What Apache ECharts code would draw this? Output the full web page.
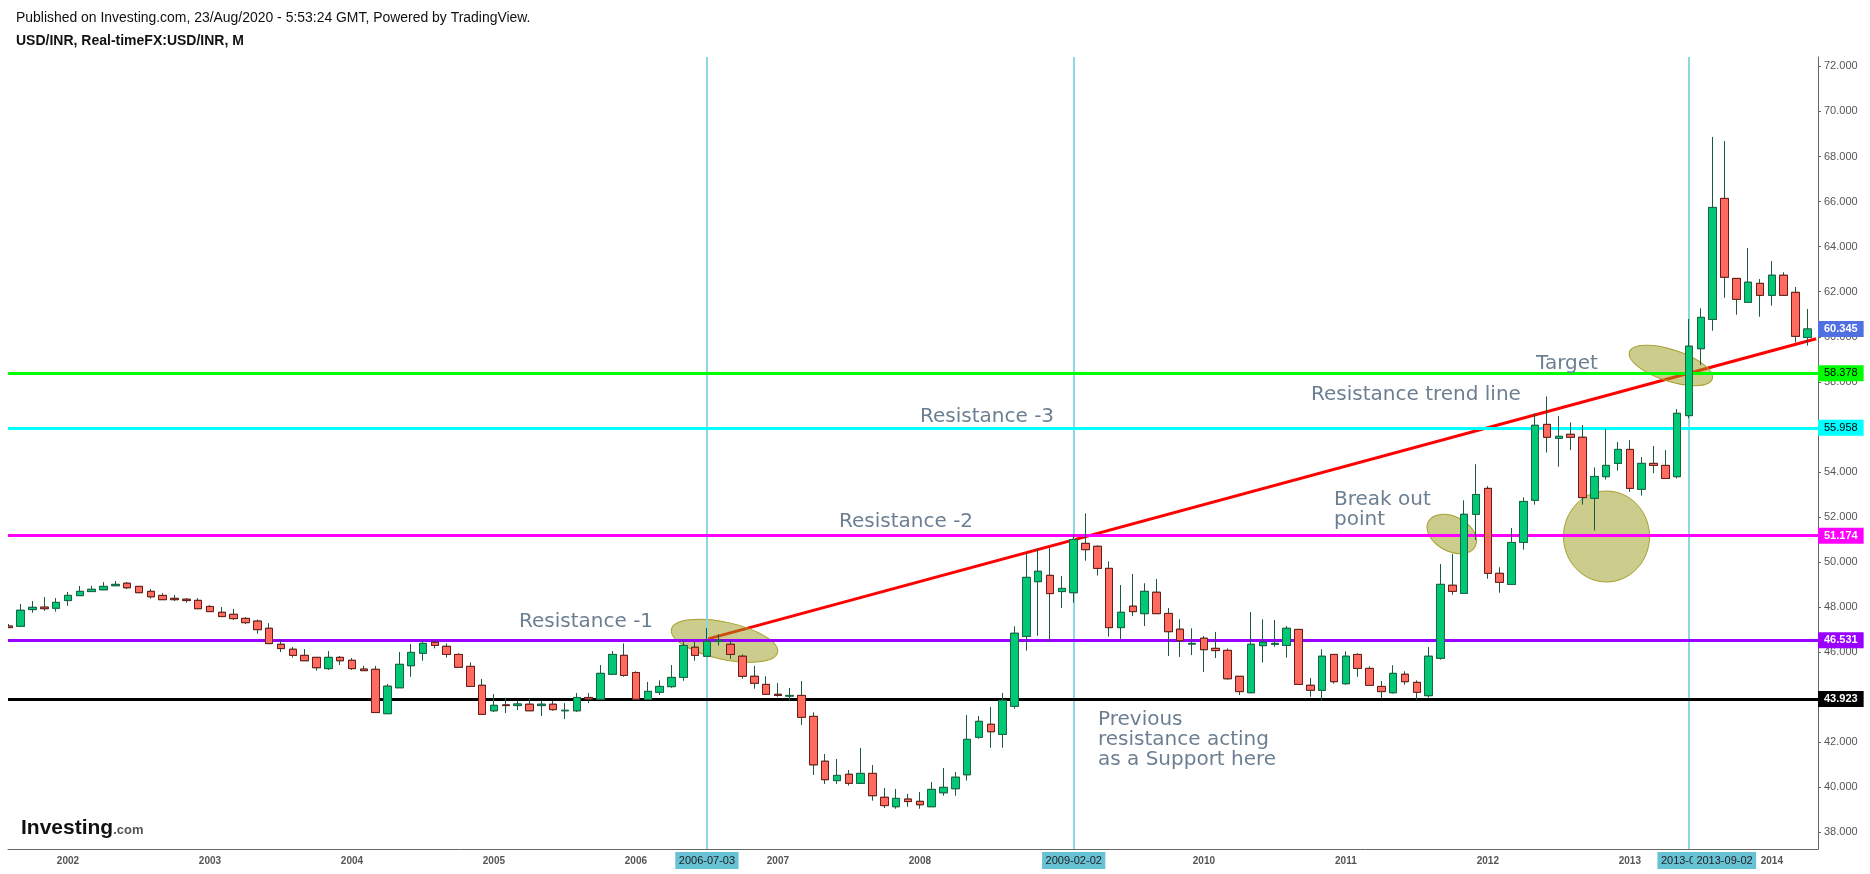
<!DOCTYPE html>
<html>
<head>
<meta charset="utf-8">
<style>html,body{margin:0;padding:0;background:#fff}#c{width:1870px;height:874px}</style>
<script src="https://cdn.jsdelivr.net/npm/echarts@6/dist/echarts.min.js"></script>
</head>
<body>
<div id="c"></div>
<script>
// Monthly candles, first one is Aug 2001, last one Apr 2014
const opens = [47.16,47.15,47.89,48.00,47.95,48.29,48.51,48.69,48.77,48.95,49.06,48.92,48.70,48.52,48.39,48.35,48.30,48.03,47.77,47.68,47.50,47.38,47.06,46.35,46.13,45.86,45.77,45.27,45.77,45.64,45.25,45.24,43.27,44.42,45.40,45.95,46.44,46.26,45.90,45.37,44.53,43.40,43.66,43.63,43.69,43.63,43.69,43.40,43.40,43.99,43.91,45.02,45.86,45.10,43.90,44.22,44.47,44.88,46.22,45.82,46.48,46.35,45.82,44.93,44.57,44.13,44.05,44.08,43.15,41.16,40.30,40.58,40.18,40.62,39.56,39.14,39.48,39.38,39.14,39.76,39.94,40.56,42.22,42.80,42.35,43.60,46.70,49.13,49.41,48.69,48.64,50.83,50.70,49.72,47.09,48.04,47.71,48.66,47.72,47.02,46.36,46.62,46.17,46.08,44.93,44.20,46.29,46.35,46.30,47.01,44.53,44.31,45.90,44.60,45.90,45.28,44.48,44.20,45.02,44.66,44.07,45.73,48.97,48.61,52.12,53.27,49.50,49.01,50.87,52.74,56.11,55.49,55.67,55.54,52.83,53.79,54.38,55.00,53.23,54.38,54.29,53.79,56.50,59.47,60.77,66.14,62.59,61.53,62.37,61.84,62.73,61.97,59.97];
const closes = [47.09,47.86,47.99,47.93,48.21,48.52,48.70,48.79,48.92,49.01,48.86,48.64,48.46,48.33,48.33,48.29,47.93,47.80,47.58,47.49,47.31,47.00,46.38,46.16,45.86,45.62,45.31,45.77,45.62,45.27,45.18,43.32,44.49,45.46,45.99,46.39,46.30,45.90,45.33,44.48,43.24,43.64,43.63,43.70,43.40,43.69,43.45,43.42,43.99,43.92,45.06,45.90,44.97,43.91,44.26,44.48,44.88,46.30,45.86,46.48,46.53,45.90,44.93,44.62,44.13,44.08,44.08,43.11,41.00,40.34,40.53,40.18,40.62,39.63,39.19,39.51,39.37,39.23,39.91,40.00,40.45,42.13,42.93,42.47,43.86,46.84,49.32,49.59,48.60,48.83,51.00,50.55,49.72,47.09,47.77,47.80,48.70,47.71,46.91,46.51,46.39,46.11,46.07,44.82,44.25,46.35,46.44,46.39,47.06,44.57,44.31,45.82,44.69,45.82,45.28,44.53,44.25,45.06,44.69,44.22,45.82,49.01,48.70,52.12,53.00,49.50,49.10,50.87,52.69,56.07,55.54,55.58,55.54,52.86,53.80,54.29,55.00,53.27,54.38,54.29,53.71,56.60,59.58,60.86,65.74,62.64,61.66,62.42,61.84,62.73,61.84,60.02,60.345];
const lows = [47.09,47.15,47.75,47.84,47.80,48.06,48.51,48.69,48.77,48.95,48.80,48.64,48.37,48.33,48.27,48.20,47.93,47.80,47.58,47.43,47.25,46.82,46.38,46.01,45.76,45.62,45.18,45.21,45.43,45.21,45.18,43.32,43.27,44.42,44.91,45.62,46.17,45.76,45.33,44.48,43.24,43.34,43.30,43.43,43.40,43.17,43.40,43.03,43.34,43.74,43.91,45.02,44.91,43.91,43.90,44.10,44.42,44.73,45.62,45.82,46.30,45.70,44.82,44.38,44.13,44.02,43.85,42.77,40.55,40.15,40.15,40.08,40.18,39.41,39.08,39.05,39.14,39.05,39.14,39.63,39.63,40.30,42.16,41.76,41.76,43.49,46.07,46.73,46.47,47.96,48.20,50.06,49.40,46.69,46.59,47.60,47.16,47.71,45.83,45.79,45.87,45.12,45.74,44.78,44.10,44.20,45.54,46.24,45.76,44.57,44.02,43.85,44.60,44.56,44.91,44.53,43.95,44.16,44.56,43.89,43.98,45.67,48.55,48.61,50.98,49.26,48.64,49.01,50.55,52.55,54.86,54.23,54.97,52.55,51.40,53.66,54.06,53.12,52.95,53.94,53.71,53.71,56.38,58.74,60.27,61.73,60.98,61.53,60.89,61.38,61.84,59.75,59.61];
const highs = [47.25,48.14,48.27,48.45,48.40,48.67,48.94,48.94,49.11,49.16,49.11,48.92,48.80,48.62,48.54,48.40,48.40,48.09,48.00,47.92,47.56,47.45,47.29,46.57,46.23,46.14,45.77,46.05,45.83,45.74,45.39,45.39,44.59,46.01,46.36,46.53,46.53,46.39,45.95,45.55,44.81,44.14,43.97,43.86,43.94,43.83,43.83,43.74,44.19,44.19,45.43,46.05,46.39,45.15,44.68,44.75,45.43,46.57,46.48,47.07,46.79,46.57,45.90,45.39,44.93,44.63,44.41,44.72,43.33,41.48,41.26,40.77,41.75,40.99,39.97,39.93,39.71,39.79,40.24,40.86,40.68,43.21,43.17,43.57,44.19,47.15,50.39,50.62,50.62,49.38,51.20,52.16,50.74,50.03,48.98,49.47,49.06,49.25,47.96,47.46,47.06,46.72,46.90,46.17,44.93,47.78,47.46,47.43,47.16,47.01,44.85,46.13,45.90,46.04,45.95,45.37,44.72,45.42,45.15,44.75,46.23,49.91,50.36,52.74,54.34,53.37,49.77,51.51,52.87,56.60,57.35,56.48,56.20,56.08,54.20,55.90,55.33,55.41,54.66,55.15,54.97,56.79,60.79,61.26,68.87,68.69,62.59,63.94,62.56,63.36,62.86,62.21,61.23];

const yearIndex = [5,17,29,41,53,65,77,89,101,113,125,137,149];
const yearLabels = ['2002','2003','2004','2005','2006','2007','2008','2009','2010','2011','2012','2013','2014'];
const priceTicks = [38,40,42,44,46,48,50,52,54,56,58,60,62,64,66,68,70,72];

const levelValues = [43.923,46.531,51.174,55.958,58.378];
const levelColors = ['#000000','#9900ff','#ff00ff','#00ffff','#00ff00'];
const levelTextColors = ['#ffffff','#ffffff','#ffffff','#000000','#000000'];
const lastPrice = 60.345;

const trendX = [59.1,152.74];
const trendY = [46.59,59.91];

const dateIndex = [59,90,142,145];
const dateLabels = ['2006-07-03','2009-02-02','2013-06-03','2013-09-02'];

const notes = [
  ['Resistance -1',519,621.5],
  ['Resistance -2',839,521.5],
  ['Resistance -3',920,416.5],
  ['Resistance trend line',1311,394.5],
  ['Target',1536,364],
  ['Break out\npoint',1334,510],
  ['Previous\nresistance acting\nas a Support here',1098,740]
];
// cx, cy, rx, ry, tilt in degrees
const ellipses = [
  [724.5,640.8,54.3,18.6,12.2],
  [1451.8,534,26.5,17.3,28],
  [1606.5,536.5,43,45.5,0],
  [1670.8,365.5,43.6,15.8,18]
];

const X_MIN = -0.0676, X_MAX = 152.9, Y_MIN = 37.264, Y_MAX = 72.417;
const GREEN='#00c875', RED='#ff6b5f', GREEN_B='#1a6646', RED_B='#6d1b17', WICK='#1b5a3c';

const full = opens.map((o,i)=>[i,o,closes[i],lows[i],highs[i]]);
const bodies = opens.map((o,i)=>[i,o,closes[i],Math.min(o,closes[i]),Math.max(o,closes[i])]);

const chart = echarts.init(document.getElementById('c'));
chart.setOption({
  animation:false,
  backgroundColor:'#ffffff',
  title:[
    {text:'Published on Investing.com, 23/Aug/2020 - 5:53:24 GMT, Powered by TradingView.',left:16,top:11,padding:0,textStyle:{fontFamily:'Liberation Sans',fontSize:13.95,fontWeight:'normal',color:'#111'}},
    {text:'USD/INR, Real-timeFX:USD/INR, M',left:16,top:34,padding:0,textStyle:{fontFamily:'Liberation Sans',fontSize:14,fontWeight:'bold',color:'#111'}},
    {text:'{a|Investing}{b|.com}',left:21,top:818,padding:0,textStyle:{rich:{a:{fontFamily:'Liberation Sans',fontSize:21,fontWeight:'bold',color:'#111'},b:{fontFamily:'Liberation Sans',fontSize:13,color:'#555',padding:[4,0,0,0]}}}}
  ],
  grid:{left:8,right:52,top:57,bottom:25},
  xAxis:{type:'value',min:X_MIN,max:X_MAX,splitLine:{show:false},
    axisLine:{onZero:false,lineStyle:{color:'#666'}},
    axisTick:{show:false},
    axisLabel:{customValues:yearIndex,formatter:v=>yearLabels[yearIndex.indexOf(v)],fontFamily:'Liberation Sans',fontSize:10,fontWeight:'bold',color:'#555',margin:7,showMinLabel:true,showMaxLabel:true}},
  yAxis:{type:'value',position:'right',min:Y_MIN,max:Y_MAX,splitLine:{show:false},
    axisLine:{show:true,onZero:false,lineStyle:{color:'#666'}},
    axisTick:{show:true,length:3,customValues:priceTicks,lineStyle:{color:'#666'}},
    axisLabel:{customValues:priceTicks,formatter:v=>v.toFixed(3),fontFamily:'Liberation Sans',fontSize:11,color:'#555',margin:6}},
  graphic:{elements:[
    ...ellipses.map(e=>({type:'ellipse',z:4,silent:true,x:e[0],y:e[1],rotation:-e[4]*Math.PI/180,
      shape:{cx:0,cy:0,rx:e[2],ry:e[3]},style:{fill:'rgba(153,153,25,0.5)',stroke:'#a5a02d',lineWidth:1}})),
    ...notes.map(n=>({type:'text',z:6,silent:true,x:n[1],y:n[2],
      style:{text:n[0],fontFamily:'DejaVu Sans',fontSize:20,lineHeight:20,fill:'#6c7f92',verticalAlign:'middle',align:'left'}})),
    // the plot ends here on the left: the first candle is cut by the edge
    {type:'rect',z:7,silent:true,shape:{x:0,y:57,width:8,height:792},style:{fill:'#ffffff'}}
  ]},
  series:[
    {type:'line',name:'Dates',z:1,data:[],silent:true,markLine:{silent:true,symbol:'none',animation:false,
      data:dateIndex.map((x,i)=>({xAxis:x,lineStyle:{color:i===3?'rgba(0,0,0,0)':'#8fd6e4',width:2,type:'solid',opacity:1},
        label:{show:true,position:'start',distance:3,formatter:dateLabels[i],backgroundColor:'#68c2d6',color:'#222',fontFamily:'Liberation Sans',fontSize:11,padding:[3,3.5]}}))}},
    {type:'line',name:'Levels',z:2,data:[],silent:true,markLine:{silent:true,symbol:'none',animation:false,
      data:levelValues.map((v,i)=>({yAxis:v,lineStyle:{color:levelColors[i],width:3,type:'solid',opacity:1},
        label:{show:true,position:'end',distance:0,formatter:v.toFixed(3),backgroundColor:levelColors[i],color:levelTextColors[i],fontFamily:'Liberation Sans',fontSize:11,fontWeight:i<3?'bold':'normal',padding:[2.5,6]}}))}},
    {type:'line',name:'Trend',z:3,silent:true,symbol:'none',data:trendX.map((x,i)=>[x,trendY[i]]),lineStyle:{color:'#ff0000',width:3}},
    {type:'candlestick',name:'USD/INR wicks',z:5,silent:true,clip:true,barWidth:8,data:full,
      itemStyle:{color:WICK,color0:WICK,borderColor:WICK,borderColor0:WICK,borderWidth:1}},
    {type:'candlestick',name:'USD/INR',z:5,silent:true,clip:true,barWidth:8,data:bodies,
      itemStyle:{color:GREEN,color0:RED,borderColor:GREEN_B,borderColor0:RED_B,borderWidth:1}},
    {type:'line',name:'Last price',z:6,data:[],silent:true,markLine:{silent:true,symbol:'none',animation:false,
      data:[{yAxis:lastPrice,lineStyle:{color:'rgba(0,0,0,0)',width:1,opacity:1},
        label:{show:true,position:'end',distance:0,formatter:lastPrice.toFixed(3),backgroundColor:'#4f6fe3',color:'#fff',fontFamily:'Liberation Sans',fontSize:11,fontWeight:'bold',padding:[2.5,6]}}]}}
  ]
});
</script>
</body>
</html>
